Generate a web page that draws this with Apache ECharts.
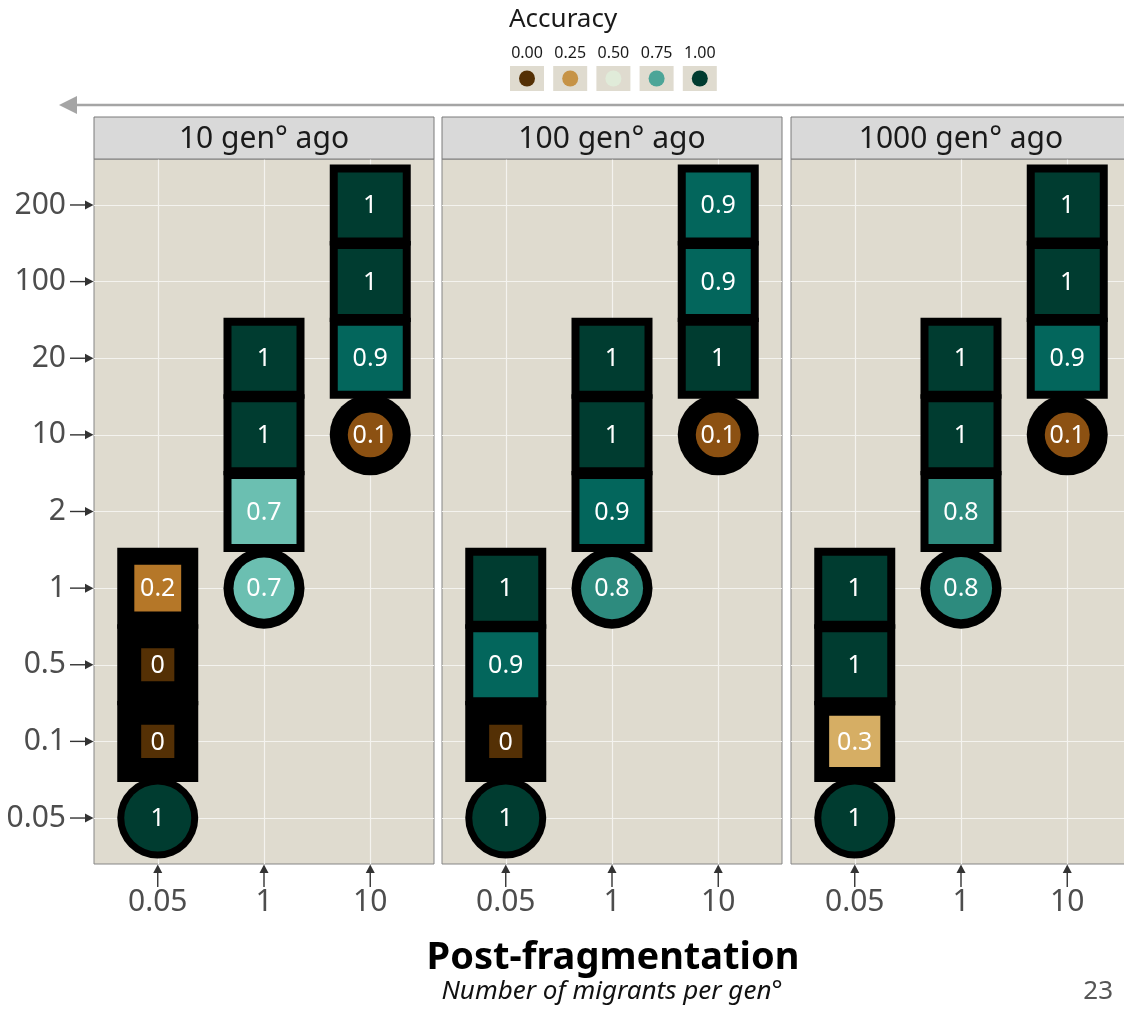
<!DOCTYPE html>
<html>
<head>
<meta charset="utf-8">
<script src="https://cdn.jsdelivr.net/npm/echarts@6/dist/echarts.min.js"></script>
<style>
  html, body { margin: 0; padding: 0; background: #ffffff; }
  #chart { width: 1124px; height: 1016px; }
</style>
</head>
<body>
<div id="chart"></div>
<script>
// Migration rates (migrants per generation), used on both axes
const xLabels = ['0.05', '1', '10'];
const yLabels = ['0.05', '0.1', '0.5', '1', '2', '10', '20', '100', '200'];
const panelTitles = ['10 gen° ago', '100 gen° ago', '1000 gen° ago'];

// Accuracy colour ramp (0 → 1) and the legend breaks
const accuracyColors = ['#543005', '#8c5112', '#b57728', '#d6ae64', '#e3d9b2', '#e0ebd9',
                        '#a6d6ca', '#6bbfb1', '#2d8b7e', '#03665c', '#003c30'];
const legendBreaks = [0, 0.25, 0.5, 0.75, 1];

// Cells: [post-fragmentation idx, pre-fragmentation idx, accuracy, support]
const cells10 = [
  [0, 0, 1, 1], [0, 1, 0, 0.26], [0, 2, 0, 0.26], [0, 3, 0.2, 0.52],
  [1, 3, 0.7, 0.83], [1, 4, 0.7, 1], [1, 5, 1, 1], [1, 6, 1, 1],
  [2, 5, 0.1, 0.45], [2, 6, 0.9, 1], [2, 7, 1, 1], [2, 8, 1, 1]
];
const cells100 = [
  [0, 0, 1, 1], [0, 1, 0, 0.26], [0, 2, 0.9, 1], [0, 3, 1, 1],
  [1, 3, 0.8, 0.86], [1, 4, 0.9, 1], [1, 5, 1, 1], [1, 6, 1, 1],
  [2, 5, 0.1, 0.45], [2, 6, 1, 1], [2, 7, 0.9, 1], [2, 8, 0.9, 1]
];
const cells1000 = [
  [0, 0, 1, 1], [0, 1, 0.3, 0.62], [0, 2, 1, 1], [0, 3, 1, 1],
  [1, 3, 0.8, 0.86], [1, 4, 0.8, 1], [1, 5, 1, 1], [1, 6, 1, 1],
  [2, 5, 0.1, 0.45], [2, 6, 0.9, 1], [2, 7, 1, 1], [2, 8, 1, 1]
];
const panels = [cells10, cells100, cells1000];

// ---- layout ----
const FONT = '"Noto Sans", "Open Sans", sans-serif';
const gridLefts = [94, 442, 791];
const panelW = 340, panelTop = 159, panelH = 705;
const stripTop = 117;
const X_MIN = -0.6, X_MAX = xLabels.length - 1 + 0.6;
const Y_MIN = -0.6, Y_MAX = yLabels.length - 1 + 0.6;
const BACK = 81;          // black backing size (px)
const SQUARE = 65;        // full-support square side (px)
const DISC = 67;          // full-support disc diameter (px)

const xIdx = xLabels.map((_, i) => i);
const yIdx = yLabels.map((_, i) => i);

// A cell is drawn as a disc when the pre- and post-fragmentation rates are the same
const isDisc = (xi, yi) => xLabels[xi] === yLabels[yi];
const fmt = v => String(Math.round(v * 10) / 10);

function renderBacking(params, api) {
  const xi = api.value(0), yi = api.value(1);
  const c = api.coord([xi, yi]);
  if (isDisc(xi, yi)) {
    return { type: 'circle', shape: { cx: c[0], cy: c[1], r: BACK / 2 }, style: { fill: '#000' } };
  }
  return { type: 'rect', shape: { x: c[0] - BACK / 2, y: c[1] - BACK / 2, width: BACK, height: BACK },
           style: { fill: '#000' } };
}

function renderFill(params, api) {
  const xi = api.value(0), yi = api.value(1);
  const acc = api.value(2), support = api.value(3);
  const c = api.coord([xi, yi]);
  const color = api.visual('color');
  let shape;
  if (isDisc(xi, yi)) {
    const d = DISC * Math.sqrt(support);
    shape = { type: 'circle', shape: { cx: c[0], cy: c[1], r: d / 2 }, style: { fill: color } };
  } else {
    const s = SQUARE * Math.sqrt(support);
    shape = { type: 'rect', shape: { x: c[0] - s / 2, y: c[1] - s / 2, width: s, height: s },
              style: { fill: color } };
  }
  return {
    type: 'group',
    children: [
      shape,
      { type: 'text', style: { text: fmt(acc), x: c[0], y: c[1] + 1, fill: '#ffffff',
        font: '25px ' + FONT, align: 'center', verticalAlign: 'middle' } }
    ]
  };
}

// Tick marks with arrowheads pointing at the panel edge
function renderXTick(params, api) {
  const c = api.coord([api.value(0), Y_MIN]);
  const x = c[0], y = c[1];
  return { type: 'group', children: [
    { type: 'line', shape: { x1: x, y1: y + 4, x2: x, y2: y + 23 }, style: { stroke: '#333', lineWidth: 1.4 } },
    { type: 'polygon', shape: { points: [[x, y + 0.5], [x - 4.5, y + 9], [x + 4.5, y + 9]] }, style: { fill: '#333' } }
  ] };
}
function renderYTick(params, api) {
  const c = api.coord([X_MIN, api.value(1)]);
  const x = c[0], y = c[1];
  return { type: 'group', children: [
    { type: 'line', shape: { x1: x - 24, y1: y, x2: x - 4, y2: y }, style: { stroke: '#333', lineWidth: 1.4 } },
    { type: 'polygon', shape: { points: [[x - 0.5, y], [x - 9, y - 4.5], [x - 9, y + 4.5]] }, style: { fill: '#333' } }
  ] };
}

const grids = gridLefts.map(l => ({
  left: l, top: panelTop, width: panelW, height: panelH,
  outerBoundsMode: 'none', containLabel: false,
  show: true, backgroundColor: '#dfdbcf', borderColor: '#858585', borderWidth: 1
}));

const splitLine = { show: true, lineStyle: { color: '#f4f3ef', width: 1.2 } };

const xAxes = gridLefts.map((_, i) => ({
  type: 'value', gridIndex: i, min: X_MIN, max: X_MAX,
  axisLine: { show: false },
  axisTick: { show: false, customValues: xIdx },
  axisLabel: { customValues: xIdx, formatter: v => xLabels[Math.round(v)], fontSize: 30,
               fontFamily: FONT, color: '#4d4d4d', margin: 23 },
  splitLine
}));

const yAxes = gridLefts.map((_, i) => ({
  type: 'value', gridIndex: i, min: Y_MIN, max: Y_MAX,
  axisLine: { show: false },
  axisTick: { show: false, customValues: yIdx },
  axisLabel: { show: i === 0, customValues: yIdx, formatter: v => yLabels[Math.round(v)], fontSize: 30,
               fontFamily: FONT, color: '#4d4d4d', margin: 28 },
  splitLine
}));

const series = [];
const fillSeries = [];
panels.forEach((cells, i) => {
  series.push({ type: 'custom', name: 'backing ' + panelTitles[i], xAxisIndex: i, yAxisIndex: i,
                data: cells, renderItem: renderBacking, z: 2, clip: false, silent: true });
  fillSeries.push(series.length);
  series.push({ type: 'custom', name: panelTitles[i], xAxisIndex: i, yAxisIndex: i,
                data: cells, renderItem: renderFill, z: 3, clip: false,
                dimensions: ['post', 'pre', 'accuracy', 'support'] });
  series.push({ type: 'custom', xAxisIndex: i, yAxisIndex: i, silent: true, clip: false, z: 1,
                data: xIdx.map(v => [v, Y_MIN]), renderItem: renderXTick });
});
series.push({ type: 'custom', xAxisIndex: 0, yAxisIndex: 0, silent: true, clip: false, z: 1,
              data: yIdx.map(v => [X_MIN, v]), renderItem: renderYTick });

// ---- static decorations: strips, time arrow, legend, axis titles ----
const graphic = [];
gridLefts.forEach((l, i) => {
  graphic.push({ type: 'rect', shape: { x: l, y: stripTop, width: panelW, height: panelTop - stripTop },
                 style: { fill: '#d9d9d9', stroke: '#7a7a7a', lineWidth: 1 }, z: 10 });
  graphic.push({ type: 'text', x: l + panelW / 2, y: stripTop + (panelTop - stripTop) / 2 + 1, z: 11,
                 style: { text: panelTitles[i], font: '30px ' + FONT, fill: '#1a1a1a',
                          align: 'center', verticalAlign: 'middle' } });
});
graphic.push({ type: 'line', shape: { x1: 74, y1: 105, x2: 1124, y2: 105 },
               style: { stroke: '#a5a5a5', lineWidth: 2.5 }, z: 10 });
graphic.push({ type: 'polygon', shape: { points: [[59, 105], [77, 96], [77, 114]] },
               style: { fill: '#a5a5a5' }, z: 10 });

graphic.push({ type: 'text', x: 509, y: 20, z: 10,
               style: { text: 'Accuracy', font: '26px ' + FONT, fill: '#1a1a1a', align: 'left', verticalAlign: 'middle' } });
legendBreaks.forEach((b, i) => {
  const cx = 527 + 43.2 * i;
  graphic.push({ type: 'text', x: cx, y: 53, z: 10,
                 style: { text: b.toFixed(2), font: '16px ' + FONT, fill: '#1a1a1a', align: 'center', verticalAlign: 'middle' } });
  graphic.push({ type: 'rect', shape: { x: cx - 17, y: 66, width: 34, height: 25 }, style: { fill: '#dfdbcf' }, z: 10 });
  graphic.push({ type: 'circle', shape: { cx: cx, cy: 78.5, r: 8 },
                 style: { fill: echarts.color.lerp(b, accuracyColors) }, z: 11 });
});

graphic.push({ type: 'text', x: 613, y: 958, z: 10,
               style: { text: 'Post-fragmentation', font: 'bold 38px ' + FONT, fill: '#000',
                        align: 'center', verticalAlign: 'middle' } });
graphic.push({ type: 'text', x: 612, y: 992, z: 10,
               style: { text: 'Number of migrants per gen°', font: 'italic 26px ' + FONT, fill: '#111',
                        align: 'center', verticalAlign: 'middle' } });
graphic.push({ type: 'text', x: 1113, y: 992, z: 10,
               style: { text: '23', font: '26px ' + FONT, fill: '#555', align: 'right', verticalAlign: 'middle' } });

const chart = echarts.init(document.getElementById('chart'), null, { renderer: 'canvas' });
chart.setOption({
  backgroundColor: '#ffffff',
  animation: false,
  textStyle: { fontFamily: FONT },
  grid: grids,
  xAxis: xAxes,
  yAxis: yAxes,
  visualMap: {
    type: 'continuous', show: false, min: 0, max: 1, dimension: 2,
    seriesIndex: fillSeries, inRange: { color: accuracyColors }
  },
  graphic,
  series
});
</script>
</body>
</html>
